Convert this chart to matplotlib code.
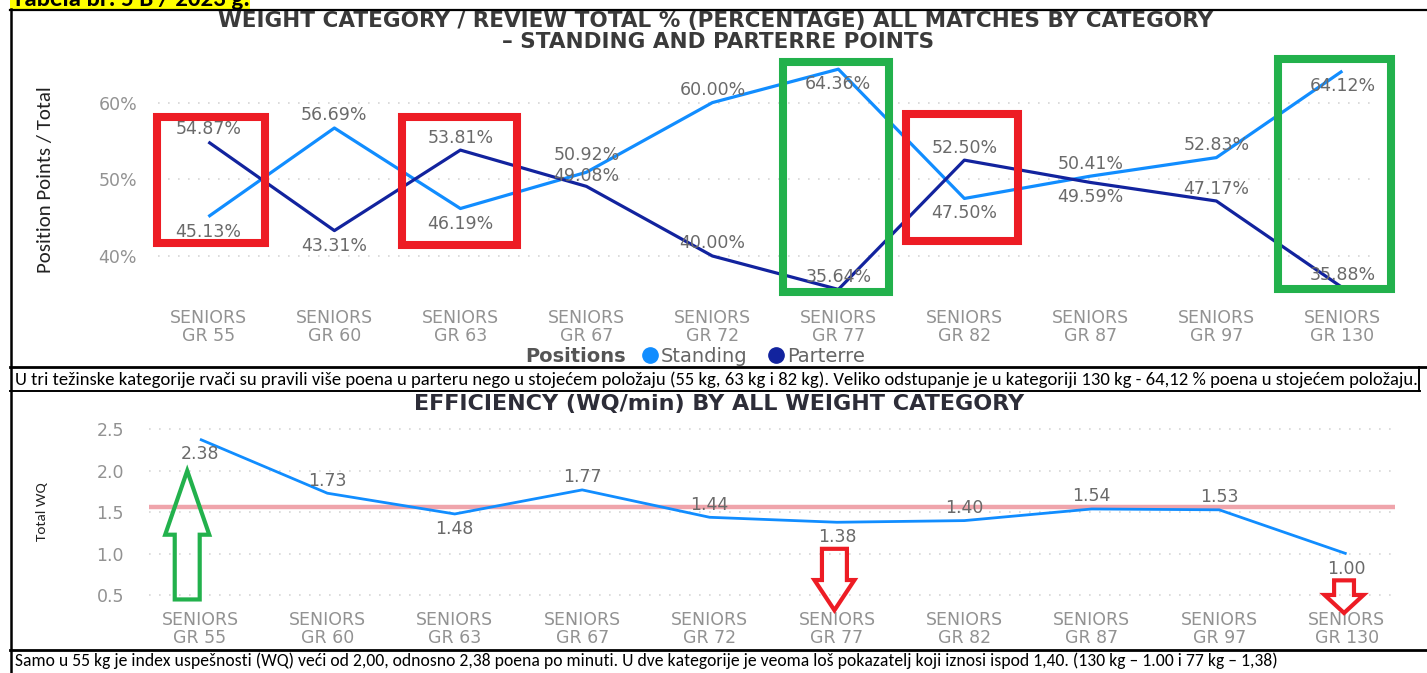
import matplotlib
matplotlib.use('Agg')
import matplotlib.pyplot as plt
from matplotlib.patches import Rectangle, Polygon
from matplotlib.lines import Line2D

# ---------------- data ----------------
categories = ['SENIORS\nGR 55', 'SENIORS\nGR 60', 'SENIORS\nGR 63', 'SENIORS\nGR 67',
              'SENIORS\nGR 72', 'SENIORS\nGR 77', 'SENIORS\nGR 82', 'SENIORS\nGR 87',
              'SENIORS\nGR 97', 'SENIORS\nGR 130']
standing = [45.13, 56.69, 46.19, 50.92, 60.00, 64.36, 47.50, 50.41, 52.83, 64.12]
parterre = [54.87, 43.31, 53.81, 49.08, 40.00, 35.64, 52.50, 49.59, 47.17, 35.88]
wq = [2.38, 1.73, 1.48, 1.77, 1.44, 1.38, 1.40, 1.54, 1.53, 1.00]
pct_ticks = [40, 50, 60]
wq_ticks = [0.5, 1.0, 1.5, 2.0, 2.5]
series_names = ['Standing', 'Parterre']
legend_title = 'Positions'

header = 'Tabela br. 5 B / 2023 g.'
title_top_1 = 'WEIGHT CATEGORY / REVIEW TOTAL % (PERCENTAGE) ALL MATCHES BY CATEGORY'
title_top_2 = '– STANDING AND PARTERRE POINTS'
ylabel_top = 'Position Points / Total'
caption_1 = ('U tri težinske kategorije rvači su pravili više poena u parteru nego u stojećem '
             'položaju (55 kg, 63 kg i 82 kg). Veliko odstupanje je u kategoriji 130 kg - 64,12 % '
             'poena u stojećem položaju.')
title_bottom = 'EFFICIENCY (WQ/min) BY ALL WEIGHT CATEGORY'
ylabel_bottom = 'Total WQ'
caption_2 = ('Samo u 55 kg je index uspešnosti (WQ) veći od 2,00, odnosno 2,38 poena po minuti. '
             'U dve kategorije je veoma loš pokazatelj koji iznosi ispod 1,40. '
             '(130 kg – 1.00 i 77 kg – 1,38)')

# ---------------- style ----------------
W, H = 1427, 673
C_STAND = '#118DFF'
C_PART = '#12239E'
C_LABEL = '#6a6a6a'
C_TICK = '#929292'
C_RED = '#ED1C24'
C_GREEN = '#22B14C'
std_pos = ['below', 'above', 'below', 'high', 'above', 'below', 'below', 'above', 'above', 'below']
par_pos = ['above', 'below', 'above', 'low', 'above', 'above', 'above', 'below', 'above', 'above']
wq_pos = ['below', 'above', 'below', 'above', 'above', 'below', 'above', 'above', 'above', 'below']
OFF = {'above': -12.5, 'below': 15.0, 'high': -17.0, 'low': -10.5}   # pixels
LBL_FS = 12.5
TICK_FS = 12.5

def fx(px):
    return px / W

def fy(py):
    return 1 - py / H

plt.rcParams['font.family'] = ['DejaVu Sans']
fig = plt.figure(figsize=(W / 100, H / 100), dpi=100)
fig.patch.set_facecolor('white')

CAP_FONT = ['Carlito', 'Liberation Sans Narrow', 'Liberation Sans', 'DejaVu Sans']

def fit_width(t, target_px):
    r = fig.canvas.get_renderer()
    w = t.get_window_extent(r).width
    t.set_fontsize(t.get_fontsize() * target_px / w)

# ---------------- top chart ----------------
ax1 = fig.add_axes([fx(158), fy(302.0), (1377 - 158) / W, (302.0 - 56.6) / H])
x = list(range(len(categories)))
ax1.set_xlim(-0.40, 9.275)
ax1.set_ylim(34, 66)
ax1.plot(x, standing, color=C_STAND, lw=2.3, solid_capstyle='butt', zorder=3)
ax1.plot(x, parterre, color=C_PART, lw=2.3, solid_capstyle='butt', zorder=3)
for s in ax1.spines.values():
    s.set_visible(False)
ax1.set_yticks(pct_ticks)
ax1.set_yticklabels([f'{v}%' for v in pct_ticks])
ax1.set_xticks(x)
ax1.set_xticklabels(categories, linespacing=1.0)
ax1.tick_params(length=0, colors=C_TICK, labelsize=TICK_FS)
ax1.tick_params(axis='y', pad=15)
ax1.tick_params(axis='x', pad=5)
ax1.grid(axis='y', color='#d6d6d6', linestyle=(0, (1, 5)), lw=1.2)
ax1.set_axisbelow(True)
for i in x:
    ax1.annotate(f'{standing[i]:.2f}%', (i, standing[i]), xytext=(0, -OFF[std_pos[i]] * 0.72),
                 textcoords='offset points', ha='center', va='center', fontsize=LBL_FS,
                 color=C_LABEL, zorder=4)
    ax1.annotate(f'{parterre[i]:.2f}%', (i, parterre[i]), xytext=(0, -OFF[par_pos[i]] * 0.72),
                 textcoords='offset points', ha='center', va='center', fontsize=LBL_FS,
                 color=C_LABEL, zorder=4)

# highlight boxes (category index, left, right, top, bottom, color)
boxes = [(0, -0.41, 0.45, 58.1, 41.7, C_RED), (2, -0.46, 0.45, 58.1, 41.4, C_RED),
         (6, -0.465, 0.425, 58.5, 41.9, C_RED), (5, -0.44, 0.40, 65.36, 35.24, C_GREEN),
         (9, -0.51, 0.39, 65.75, 35.76, C_GREEN)]
for (ci, l, r, t, b, c) in boxes:
    ax1.add_patch(Rectangle((ci + l, b), r - l, t - b, fill=False, edgecolor=c, lw=5.8,
                            clip_on=False, zorder=5, joinstyle='miter'))

# legend
handles = [Line2D([], [], marker='o', linestyle='', color=C_STAND, markersize=11),
           Line2D([], [], marker='o', linestyle='', color=C_PART, markersize=11)]
leg = fig.legend(handles, series_names, loc='center left', bbox_to_anchor=(fx(640), fy(356)),
                 ncol=2, frameon=False, fontsize=14, handletextpad=0.05, columnspacing=1.0,
                 handlelength=1.0, borderpad=0, borderaxespad=0)
for t in leg.get_texts():
    t.set_color('#666666')
fig.text(fx(626), fy(356), legend_title, ha='right', va='center', fontsize=14,
         fontweight='bold', color='#555555')

fig.text(fx(716), fy(20.5), title_top_1, ha='center', va='center', fontsize=15.5,
         fontweight='bold', color='#3a3a3a')
fig.text(fx(718), fy(42), title_top_2, ha='center', va='center', fontsize=15.5,
         fontweight='bold', color='#3a3a3a')
fig.text(fx(46), fy(180), ylabel_top, ha='center', va='center', rotation=90,
         fontsize=15, color='#222222', family=CAP_FONT)

# ---------------- bottom chart ----------------
ax2 = fig.add_axes([fx(149), fy(603.6), (1395 - 149) / W, (603.6 - 421.0) / H])
ax2.set_xlim(-0.40, 9.38)
ax2.set_ylim(0.4, 2.6)
ax2.plot(x, wq, color=C_STAND, lw=2.0, solid_capstyle='butt', zorder=3)
avg = sum(wq) / len(wq)
ax2.axhline(avg, color='#EE9AA2', lw=3.2, alpha=0.9, zorder=2)
for s in ax2.spines.values():
    s.set_visible(False)
ax2.set_yticks(wq_ticks)
ax2.set_yticklabels([f'{v:.1f}' for v in wq_ticks])
ax2.set_xticks(x)
ax2.set_xticklabels(categories, linespacing=1.0)
ax2.tick_params(length=0, colors=C_TICK, labelsize=TICK_FS)
ax2.tick_params(axis='y', pad=18)
ax2.tick_params(axis='x', pad=5)
ax2.grid(axis='y', color='#d6d6d6', linestyle=(0, (1, 5)), lw=1.2)
ax2.set_axisbelow(True)
for i in x:
    ax2.annotate(f'{wq[i]:.2f}', (i, wq[i]), xytext=(0, -OFF[wq_pos[i]] * 0.72),
                 textcoords='offset points', ha='center', va='center', fontsize=LBL_FS,
                 color=C_LABEL, zorder=4)

def arrow(ax, ci, dx, shaft, head, y_tail, y_base, y_tip, color):
    c = ci + dx
    pts = [(c - shaft, y_tail), (c - shaft, y_base), (c - head, y_base), (c, y_tip),
           (c + head, y_base), (c + shaft, y_base), (c + shaft, y_tail)]
    ax.add_patch(Polygon(pts, closed=True, fill=False, edgecolor=color, lw=3.0,
                         clip_on=False, zorder=5, joinstyle='miter'))

arrow(ax2, 0, -0.10, 0.098, 0.173, 0.45, 1.23, 2.0, C_GREEN)
arrow(ax2, 5, -0.02, 0.098, 0.157, 1.06, 0.684, 0.32, C_RED)
arrow(ax2, 9, -0.02, 0.078, 0.153, 0.68, 0.504, 0.287, C_RED)

fig.text(fx(719), fy(404), title_bottom, ha='center', va='center', fontsize=16,
         fontweight='bold', color='#2d2d38')
fig.text(fx(42), fy(512), ylabel_bottom, ha='center', va='center', rotation=90,
         fontsize=11, color='#222222', family=CAP_FONT)

# ---------------- captions, header, borders ----------------
cap1 = fig.text(fx(15), fy(380), caption_1, ha='left', va='center', fontsize=11,
                color='black', family=CAP_FONT)
cap2 = fig.text(fx(15), fy(661), caption_2, ha='left', va='center', fontsize=11,
                color='black', family=CAP_FONT)
fig.add_artist(Rectangle((fx(10), fy(8.5)), fx(240), 8.5 / H, transform=fig.transFigure,
                         facecolor='#FFFF00', edgecolor='none', zorder=1))
hdr = fig.text(fx(12), fy(6.5), header, ha='left', va='baseline', fontsize=13,
               fontweight='bold', color='black', family=CAP_FONT, zorder=2)

fit_width(cap1, 1405)
fit_width(cap2, 1255)
fit_width(hdr, 238)

def hline(py, x0=10, x1=1427, lw=1.6):
    fig.add_artist(Line2D([fx(x0), fx(x1)], [fy(py), fy(py)], transform=fig.transFigure,
                          color='black', lw=lw))

def vline(px, y0, y1, lw=1.6):
    fig.add_artist(Line2D([fx(px), fx(px)], [fy(y0), fy(y1)], transform=fig.transFigure,
                          color='black', lw=lw))

hline(9.5)
hline(367.5, lw=2.0)
hline(391, x0=10, x1=1420, lw=1.4)
hline(650, lw=2.0)
vline(11, 9, 673, lw=1.8)
vline(1419, 367, 391, lw=1.4)

fig.savefig('out.png', dpi=100, facecolor='white')
